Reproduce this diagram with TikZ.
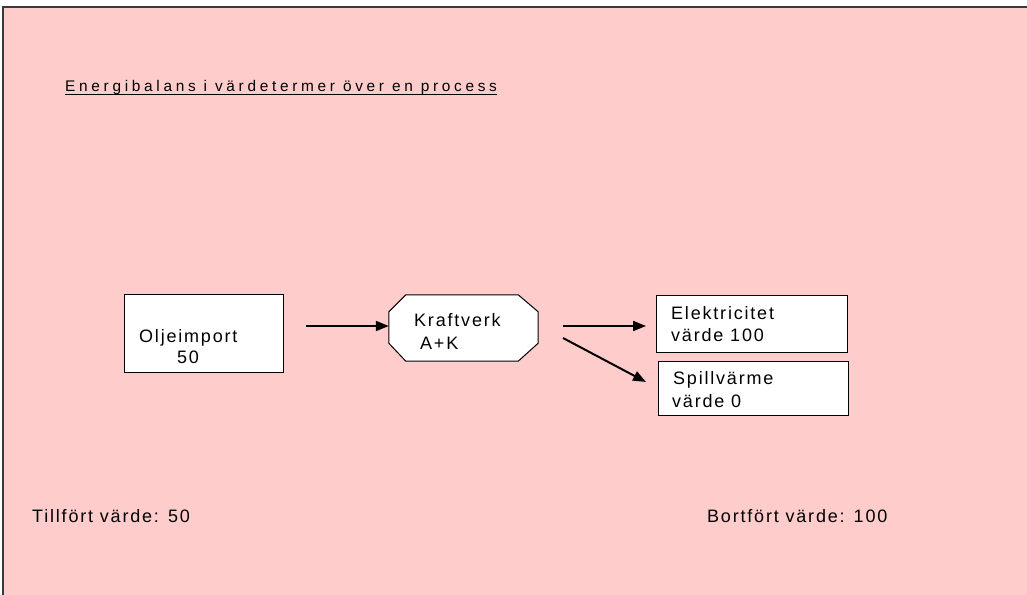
\documentclass[tikz,border=0pt]{standalone}
\usepackage{fontspec}
\setmainfont{Liberation Sans}
\usetikzlibrary{arrows.meta}
\definecolor{bgpink}{HTML}{FFCCCC}
\definecolor{framegray}{HTML}{3A3A3A}
\newfontfamily\boxfont[LetterSpace=10]{Liberation Sans}
\newfontfamily\titlefont[LetterSpace=24]{Liberation Sans}
\begin{document}
\begin{tikzpicture}[x=1pt,y=-1pt,
  lbl/.style={inner sep=0pt,anchor=base west,font=\boxfont\fontsize{18}{20}\selectfont},
  box/.style={draw=black,line width=1pt,fill=white,rectangle,inner sep=0pt},
  octa/.style={draw=black,line width=1pt,fill=white},
  arr/.style={line width=2pt,-{Triangle[length=13pt,width=10pt]}}]
\useasboundingbox (0,0) rectangle (1027,594);
\begin{scope}
\clip (0,0) rectangle (1027,594);
\draw[framegray,line width=2pt,fill=bgpink] (3,7) rectangle (1060,640);
\end{scope}
% title
\node[inner sep=0pt,anchor=base west,font=\titlefont\fontsize{15.4}{17}\selectfont] (title) at (65,92) {Energibalans i värdetermer över en process};
\draw[line width=1.2pt] ([yshift=-2.5pt]title.base west) -- ([yshift=-2.5pt]title.base east);
% boxes
\node[box,minimum width=159pt,minimum height=78pt] (olje) at (203.5,333) {};
\node[inner sep=0pt,minimum width=149pt,minimum height=66pt] (kraft) at (463.5,328) {};
\draw[octa] ([xshift=17pt]kraft.north west) -- ([xshift=-20pt]kraft.north east)
  -- ([yshift=-17pt]kraft.north east) -- ([yshift=18pt]kraft.south east)
  -- ([xshift=-20pt]kraft.south east) -- ([xshift=17pt]kraft.south west)
  -- ([yshift=18pt]kraft.south west) -- ([yshift=-17pt]kraft.north west) -- cycle;
\node[box,minimum width=191pt,minimum height=57pt] (elek) at (751.5,323.5) {};
\node[box,minimum width=190pt,minimum height=54pt] (spill) at (753,388) {};
% texts
\node[lbl] (t1) at (139,342) {Oljeimport};
\node[lbl] (t2) at (177,363) {50};
\node[lbl] (t3) at (414,326) {Kraftverk};
\node[lbl] (t4) at (420,349) {A+K};
\node[lbl] (t5) at (671,319) {Elektricitet};
\node[lbl] (t6) at (671,341) {värde 100};
\node[lbl] (t7) at (673,384) {Spillvärme};
\node[lbl] (t8) at (672,407) {värde 0};
\node[lbl] (tin) at (32,522) {Tillfört värde: 50};
\node[lbl] (tout) at (707,522) {Bortfört värde: 100};
% connectors
\coordinate (a1s) at (306,326);
\coordinate (a2s) at (563,326);
\coordinate (a2e) at (646,326);
\coordinate (a3s) at (563,338);
\coordinate (a3e) at (646,382);
\draw[arr] (a1s) -- (kraft.west |- a1s);
\draw[arr] (a2s) -- (a2e);
\draw[arr] (a3s) -- (a3e);
\end{tikzpicture}
\end{document}
